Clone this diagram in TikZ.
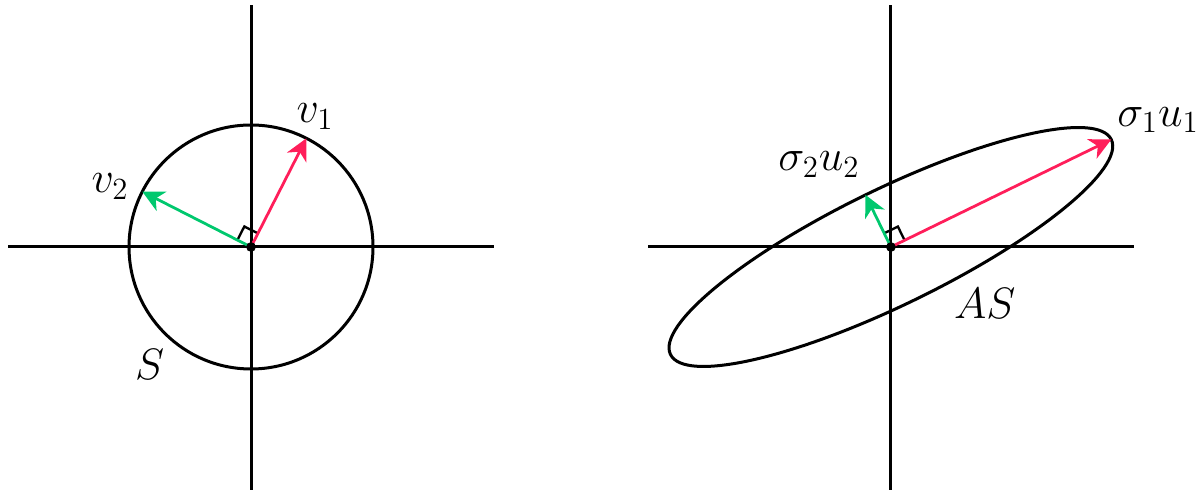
\RequirePackage{fix-cm}
\documentclass[tikz,border=0pt]{standalone}
\usetikzlibrary{arrows.meta}
\definecolor{vred}{RGB}{255,30,90}
\definecolor{vgreen}{RGB}{0,200,110}
\tikzset{
  axis/.style={line width=1.4pt},
  vec/.style={line width=1.3pt,-{Stealth[length=10pt,width=10pt,inset=3pt]}},
  rmark/.style={line width=1.1pt},
  lbl/.style={font=\fontsize{20.5}{25}\selectfont}
}
\begin{document}
\begin{tikzpicture}
    \useasboundingbox (-4.115,-4.033) rectangle (15.525,4.049);
    % left: S and the v's
    \coordinate (O1) at (0,0);
    \draw[axis] (-3.98,0) -- (3.98,0);
    \draw[axis] (0,-3.98) -- (0,3.97);
    \draw[axis] (O1) circle (2);
    \coordinate (v1) at (63:2);
    \coordinate (v2) at (153:2);
    \draw[rmark,rotate=63] (0.25,0) -- (0.25,0.25) -- (0,0.25);
    \draw[vec,vred] (O1) -- (v1);
    \draw[vec,vgreen] (O1) -- (v2);
    \fill (O1) circle (0.08);
    \node[lbl] (lv1) at (1.05,2.14) {$v_1$};
    \node[lbl] (lv2) at (-2.31,0.99) {$v_2$};
    \node[lbl] (lS) at (-1.66,-1.93) {$S$};
    % right: AS and the sigma u's
    \begin{scope}[xshift=10.49cm]
        \coordinate (O2) at (0,0);
        \draw[axis] (-3.98,0) -- (3.98,0);
        \draw[axis] (0,-3.98) -- (0,3.97);
        \draw[axis,rotate=26] (O2) ellipse [x radius=4.02, y radius=0.95];
        \coordinate (u1) at (26:4.02);
        \coordinate (u2) at (116:0.95);
        \draw[rmark,rotate=26] (0.25,0) -- (0.25,0.25) -- (0,0.25);
        \draw[vec,vred] (O2) -- (u1);
        \draw[vec,vgreen] (O2) -- (u2);
        \fill (O2) circle (0.08);
        \node[lbl] (lu1) at (4.38,2.08) {$\sigma_1u_1$};
        \node[lbl] (lu2) at (-1.18,1.35) {$\sigma_2u_2$};
        \node[lbl] (lAS) at (1.54,-0.92) {$AS$};
    \end{scope}
\end{tikzpicture}
\end{document}
